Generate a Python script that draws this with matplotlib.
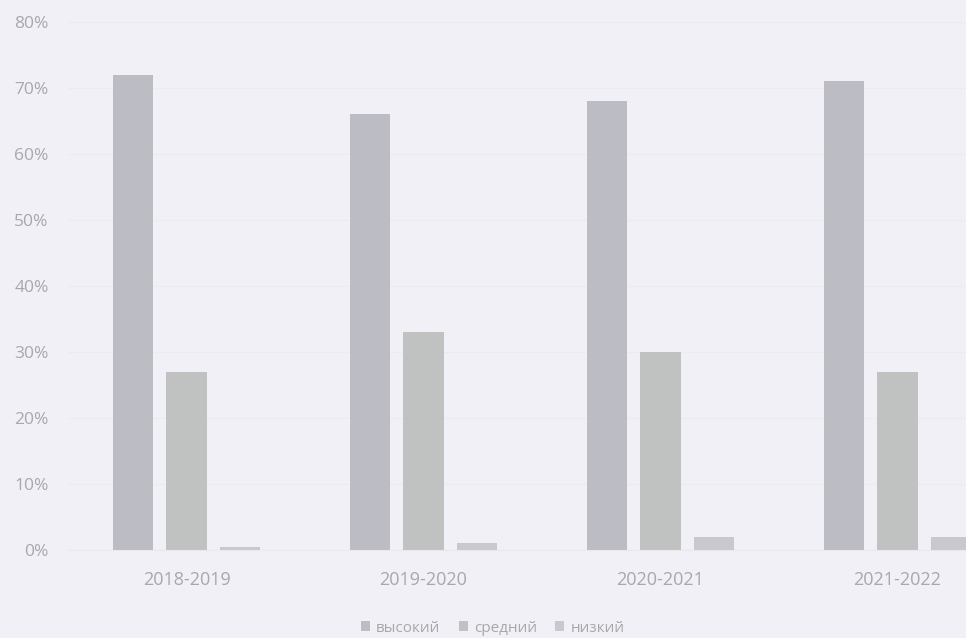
"""
Grouped bar chart: distribution of levels (высокий / средний / низкий) by school year.
Scanned-look grey palette on a pale background.
"""

import matplotlib.pyplot as plt
import numpy as np
from matplotlib.ticker import PercentFormatter

# ── Data ──────────────────────────────────────────────────────────────────────
years = ["2018-2019", "2019-2020", "2020-2021", "2021-2022"]
series_names = ["высокий", "средний", "низкий"]
high = [72, 66, 68, 71]
medium = [27, 33, 30, 27]
low = [0.5, 1, 2, 2]

# ── Style ─────────────────────────────────────────────────────────────────────
BG = "#f0f0f6"
TEXT = "#a8a8ac"
COLORS = ["#bcbdc4", "#c0c2c2", "#c8c9ce"]
plt.rcParams["font.family"] = ["Open Sans", "DejaVu Sans"]


def main() -> None:
    fig = plt.figure(figsize=(9.66, 6.38), dpi=100, facecolor=BG)
    ax = fig.add_axes([68 / 966, 88 / 638, 1 - 68 / 966, (550 - 22) / 638])
    ax.set_facecolor(BG)

    x = np.arange(len(years))
    width = 0.169
    step = 0.224
    for i, (vals, name) in enumerate(zip([high, medium, low], series_names)):
        ax.bar(x + (i - 1) * step, vals, width, color=COLORS[i], label=name, zorder=2)

    ax.set_ylim(0, 80)
    ax.set_xlim(-0.5, -0.5 + 898 / 237)
    ax.set_yticks(np.arange(0, 81, 10))
    ax.yaxis.set_major_formatter(PercentFormatter(decimals=0))
    ax.set_xticks(x)
    ax.set_xticklabels(years)

    ax.grid(axis="y", color="#ebebf0", linewidth=0.8, zorder=0)
    for side in ["top", "right", "left"]:
        ax.spines[side].set_visible(False)
    ax.spines["bottom"].set_color("#e8e8ed")
    ax.tick_params(axis="both", length=0, colors=TEXT)
    ax.tick_params(axis="y", labelsize=12.5, pad=14)
    ax.tick_params(axis="x", labelsize=13, pad=15)

    fig.legend(
        loc="lower center",
        bbox_to_anchor=(0.51, -0.018),
        ncol=3,
        frameon=False,
        fontsize=11,
        labelcolor=TEXT,
        handlelength=0.6,
        handleheight=0.6,
        handletextpad=0.4,
        columnspacing=1.2,
    )

    fig.savefig("out.png", dpi=100, facecolor=BG)


if __name__ == "__main__":
    main()
